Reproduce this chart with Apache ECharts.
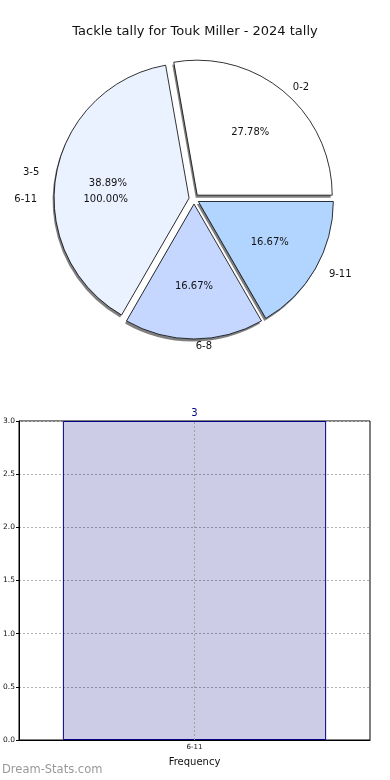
<!DOCTYPE html>
<html><head><meta charset="utf-8">
<script src="https://cdn.jsdelivr.net/npm/echarts@6/dist/echarts.min.js"></script>
<style>html,body{margin:0;padding:0;background:#fff}#c{width:390px;height:780px}</style>
</head><body><div id="c"></div>
<script>
const titleText = 'Tackle tally for Touk Miller - 2024 tally';
const pieCategories = ['0-2', '3-5', '6-8', '9-11'];
const pieValues = [5, 7, 3, 3];
const overlayCategories = ['6-11'];
const overlayValues = [3];
const barCategories = ['6-11'];
const barValues = [3];
const yTicks = [0, 0.5, 1.0, 1.5, 2.0, 2.5, 3.0];

// styling (not data)
const pieColors = ['#ffffff', '#eaf1ff', '#c5d7ff', '#b2d5ff'];
const pieLabelLen = [6, 12, 7, 10];
const pieLabelPad = [0, 0, [0, -23, 0, 0], 0];

const chart = echarts.init(document.getElementById('c'), null, {renderer: 'canvas'});
const FONT = 'DejaVu Sans';
const C = [194, 199], R = 135, OFF = 5;

function pctOf(values) {
  const t = values.reduce((a, b) => a + b, 0);
  return p => (p.value / t * 100).toFixed(2) + '%';
}

const pieMain = pieCategories.map((n, i) => ({
  name: n, value: pieValues[i], selected: true,
  itemStyle: {color: pieColors[i]},
  label: {padding: pieLabelPad[i]},
  labelLine: {length: pieLabelLen[i], length2: 0}
}));
const piePlain = pieCategories.map((n, i) => ({name: n, value: pieValues[i], selected: true}));
const overlayData = overlayCategories.map((n, i) => ({name: n, value: overlayValues[i]}));
const common = {startAngle: 0, clockwise: false, silent: true, selectedMode: 'multiple', selectedOffset: OFF,
  emphasis: {disabled: true}, animation: false, avoidLabelOverlap: false};
const txt = {fontFamily: FONT, fontSize: 10, color: '#111'};
const clear = {color: 'rgba(0,0,0,0)', borderWidth: 0};

chart.setOption({
  animation: false,
  title: {text: titleText, left: 'center', top: 20, textStyle: {fontFamily: FONT, fontSize: 13, fontWeight: 'normal', color: '#111'}},
  graphic: [{type: 'text', left: 2, top: 764, style: {text: 'Dream-Stats.com', fontFamily: FONT, fontSize: 11.5, fill: '#999'}}],
  grid: {left: 19, right: 20, top: 421, bottom: 40, show: true, borderColor: '#000', borderWidth: 1, containLabel: false},
  xAxis: {type: 'category', data: barCategories, name: 'Frequency', nameLocation: 'middle', nameGap: 17,
    nameTextStyle: {fontFamily: FONT, fontSize: 10, color: '#111'},
    axisLine: {lineStyle: {color: '#000'}}, axisTick: {alignWithLabel: true, length: 3, lineStyle: {color: '#000'}},
    axisLabel: {fontFamily: FONT, fontSize: 7, color: '#111', margin: 4},
    splitLine: {show: false}},
  yAxis: {type: 'value', min: yTicks[0], max: yTicks[yTicks.length - 1], interval: 0.5,
    axisLine: {show: true, lineStyle: {color: '#000'}}, axisTick: {show: true, length: 3, lineStyle: {color: '#000'}},
    axisLabel: {fontFamily: FONT, fontSize: 7.5, color: '#111', margin: 4, formatter: v => v.toFixed(1)},
    splitLine: {show: true, lineStyle: {color: '#b0b0b0', type: [2, 2], width: 1}}},
  series: [
    // shadow
    Object.assign({type: 'pie', radius: R, center: [C[0] - 1.5, C[1] + 2.5], data: piePlain, z: 1,
      itemStyle: {color: 'rgba(0,0,0,0.5)', borderWidth: 0}, label: {show: false}, labelLine: {show: false}}, common),
    // slices + names
    Object.assign({type: 'pie', radius: R, center: C, data: pieMain, z: 2,
      itemStyle: {borderColor: '#000', borderWidth: 0.8},
      select: {itemStyle: {borderColor: '#000', borderWidth: 0.8}},
      label: Object.assign({show: true, position: 'outside', formatter: '{b}'}, txt),
      labelLine: {show: false}}, common),
    // percents
    Object.assign({type: 'pie', radius: [24, R], center: C, data: piePlain, z: 3,
      itemStyle: clear, select: {itemStyle: clear},
      label: Object.assign({show: true, position: 'inside', formatter: pctOf(pieValues)}, txt),
      labelLine: {show: false}}, common),
    // overlay pie (names)
    Object.assign({type: 'pie', radius: R, center: C, data: overlayData, z: 3,
      itemStyle: clear,
      label: Object.assign({show: true, position: 'outside', formatter: '{b}'}, txt),
      labelLine: {show: false, length: 17, length2: 0}}, common, {selectedMode: false}),
    // overlay pie (percents)
    Object.assign({type: 'pie', radius: 57, center: C, data: overlayData, z: 3,
      itemStyle: clear,
      label: Object.assign({show: true, position: 'outside', formatter: pctOf(overlayValues)}, txt),
      labelLine: {show: false, length: 4, length2: 0}}, common, {selectedMode: false}),
    {type: 'bar', data: barValues, barWidth: '75%', silent: true,
      itemStyle: {color: 'rgba(0,0,128,0.2)', borderColor: '#000080', borderWidth: 1},
      label: {show: true, position: 'top', distance: 3, fontFamily: FONT, fontSize: 10, color: '#000080'},
      markLine: {silent: true, symbol: 'none', label: {show: false}, animation: false,
        lineStyle: {color: '#a0a0a0', type: [2, 2], width: 1},
        data: [{xAxis: barCategories[0]}]}}
  ]
});
</script></body></html>
